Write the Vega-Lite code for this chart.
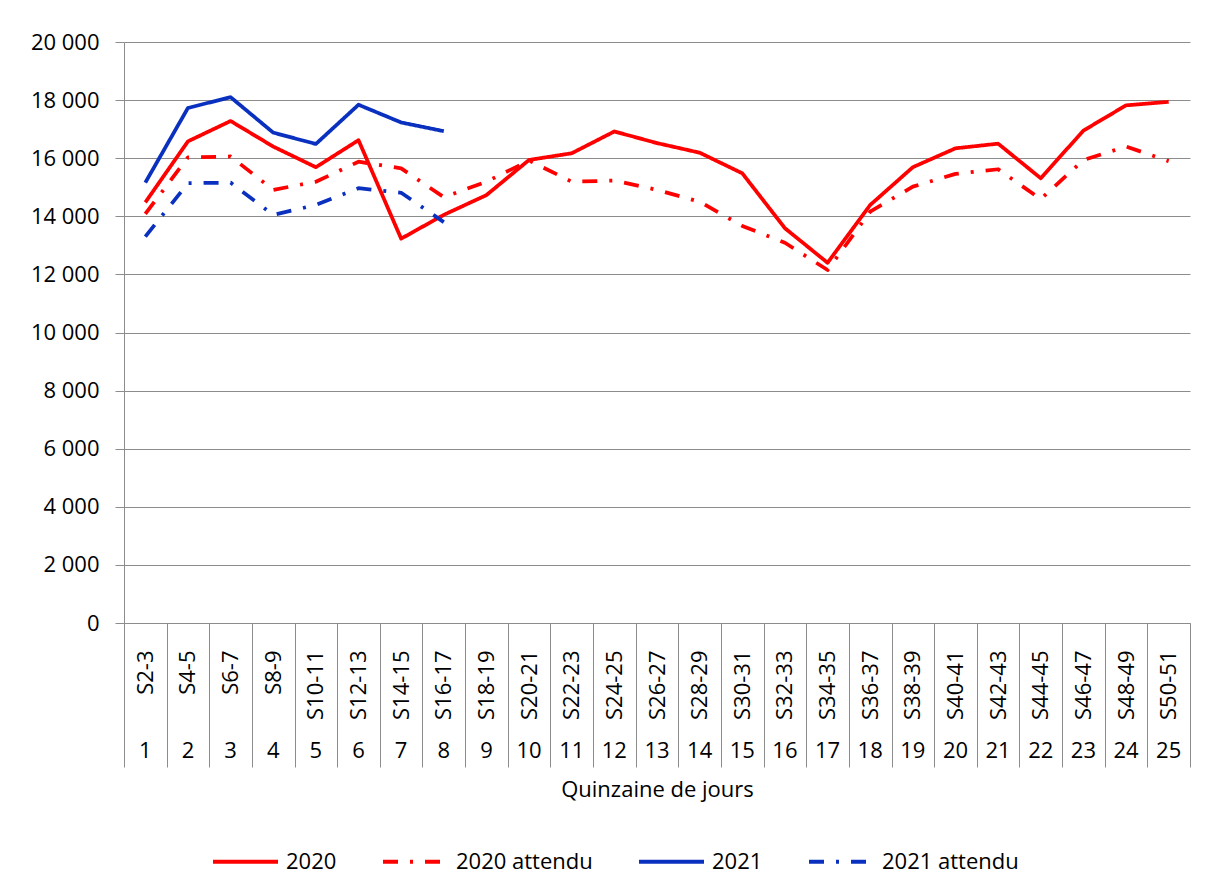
{
  "$schema": "https://vega.github.io/schema/vega-lite/v6.json",
  "width": 1066,
  "height": 581,
  "autosize": {"type": "none"},
  "padding": {"left": 124, "top": 42, "right": 15, "bottom": 272},
  "background": "white",
  "config": {
    "font": "Open Sans",
    "view": {"stroke": null},
    "axis": {"labelColor": "#000000", "titleColor": "#000000", "labelFont": "Open Sans", "titleFont": "Open Sans"},
    "legend": {"labelFont": "Open Sans"}
  },
  "datasets": {
    "series": [
      {"rang": 1, "quinzaine": "S2-3", "serie": "2020", "valeur": 14480},
      {"rang": 2, "quinzaine": "S4-5", "serie": "2020", "valeur": 16580},
      {"rang": 3, "quinzaine": "S6-7", "serie": "2020", "valeur": 17280},
      {"rang": 4, "quinzaine": "S8-9", "serie": "2020", "valeur": 16400},
      {"rang": 5, "quinzaine": "S10-11", "serie": "2020", "valeur": 15690},
      {"rang": 6, "quinzaine": "S12-13", "serie": "2020", "valeur": 16620},
      {"rang": 7, "quinzaine": "S14-15", "serie": "2020", "valeur": 13230},
      {"rang": 8, "quinzaine": "S16-17", "serie": "2020", "valeur": 14050},
      {"rang": 9, "quinzaine": "S18-19", "serie": "2020", "valeur": 14730},
      {"rang": 10, "quinzaine": "S20-21", "serie": "2020", "valeur": 15940},
      {"rang": 11, "quinzaine": "S22-23", "serie": "2020", "valeur": 16170},
      {"rang": 12, "quinzaine": "S24-25", "serie": "2020", "valeur": 16920},
      {"rang": 13, "quinzaine": "S26-27", "serie": "2020", "valeur": 16520},
      {"rang": 14, "quinzaine": "S28-29", "serie": "2020", "valeur": 16190},
      {"rang": 15, "quinzaine": "S30-31", "serie": "2020", "valeur": 15480},
      {"rang": 16, "quinzaine": "S32-33", "serie": "2020", "valeur": 13590},
      {"rang": 17, "quinzaine": "S34-35", "serie": "2020", "valeur": 12400},
      {"rang": 18, "quinzaine": "S36-37", "serie": "2020", "valeur": 14390},
      {"rang": 19, "quinzaine": "S38-39", "serie": "2020", "valeur": 15690},
      {"rang": 20, "quinzaine": "S40-41", "serie": "2020", "valeur": 16340},
      {"rang": 21, "quinzaine": "S42-43", "serie": "2020", "valeur": 16500},
      {"rang": 22, "quinzaine": "S44-45", "serie": "2020", "valeur": 15310},
      {"rang": 23, "quinzaine": "S46-47", "serie": "2020", "valeur": 16950},
      {"rang": 24, "quinzaine": "S48-49", "serie": "2020", "valeur": 17820},
      {"rang": 25, "quinzaine": "S50-51", "serie": "2020", "valeur": 17940},
      {"rang": 1, "quinzaine": "S2-3", "serie": "2020 attendu", "valeur": 14080},
      {"rang": 2, "quinzaine": "S4-5", "serie": "2020 attendu", "valeur": 16030},
      {"rang": 3, "quinzaine": "S6-7", "serie": "2020 attendu", "valeur": 16060},
      {"rang": 4, "quinzaine": "S8-9", "serie": "2020 attendu", "valeur": 14910},
      {"rang": 5, "quinzaine": "S10-11", "serie": "2020 attendu", "valeur": 15190},
      {"rang": 6, "quinzaine": "S12-13", "serie": "2020 attendu", "valeur": 15880},
      {"rang": 7, "quinzaine": "S14-15", "serie": "2020 attendu", "valeur": 15650},
      {"rang": 8, "quinzaine": "S16-17", "serie": "2020 attendu", "valeur": 14660},
      {"rang": 9, "quinzaine": "S18-19", "serie": "2020 attendu", "valeur": 15190},
      {"rang": 10, "quinzaine": "S20-21", "serie": "2020 attendu", "valeur": 15920},
      {"rang": 11, "quinzaine": "S22-23", "serie": "2020 attendu", "valeur": 15190},
      {"rang": 12, "quinzaine": "S24-25", "serie": "2020 attendu", "valeur": 15230},
      {"rang": 13, "quinzaine": "S26-27", "serie": "2020 attendu", "valeur": 14910},
      {"rang": 14, "quinzaine": "S28-29", "serie": "2020 attendu", "valeur": 14500},
      {"rang": 15, "quinzaine": "S30-31", "serie": "2020 attendu", "valeur": 13670},
      {"rang": 16, "quinzaine": "S32-33", "serie": "2020 attendu", "valeur": 13090},
      {"rang": 17, "quinzaine": "S34-35", "serie": "2020 attendu", "valeur": 12150},
      {"rang": 18, "quinzaine": "S36-37", "serie": "2020 attendu", "valeur": 14160},
      {"rang": 19, "quinzaine": "S38-39", "serie": "2020 attendu", "valeur": 15020},
      {"rang": 20, "quinzaine": "S40-41", "serie": "2020 attendu", "valeur": 15460},
      {"rang": 21, "quinzaine": "S42-43", "serie": "2020 attendu", "valeur": 15620},
      {"rang": 22, "quinzaine": "S44-45", "serie": "2020 attendu", "valeur": 14590},
      {"rang": 23, "quinzaine": "S46-47", "serie": "2020 attendu", "valeur": 15940},
      {"rang": 24, "quinzaine": "S48-49", "serie": "2020 attendu", "valeur": 16400},
      {"rang": 25, "quinzaine": "S50-51", "serie": "2020 attendu", "valeur": 15900},
      {"rang": 1, "quinzaine": "S2-3", "serie": "2021", "valeur": 15160},
      {"rang": 2, "quinzaine": "S4-5", "serie": "2021", "valeur": 17730},
      {"rang": 3, "quinzaine": "S6-7", "serie": "2021", "valeur": 18100},
      {"rang": 4, "quinzaine": "S8-9", "serie": "2021", "valeur": 16880},
      {"rang": 5, "quinzaine": "S10-11", "serie": "2021", "valeur": 16490},
      {"rang": 6, "quinzaine": "S12-13", "serie": "2021", "valeur": 17840},
      {"rang": 7, "quinzaine": "S14-15", "serie": "2021", "valeur": 17230},
      {"rang": 8, "quinzaine": "S16-17", "serie": "2021", "valeur": 16930},
      {"rang": 1, "quinzaine": "S2-3", "serie": "2021 attendu", "valeur": 13300},
      {"rang": 2, "quinzaine": "S4-5", "serie": "2021 attendu", "valeur": 15140},
      {"rang": 3, "quinzaine": "S6-7", "serie": "2021 attendu", "valeur": 15160},
      {"rang": 4, "quinzaine": "S8-9", "serie": "2021 attendu", "valeur": 14050},
      {"rang": 5, "quinzaine": "S10-11", "serie": "2021 attendu", "valeur": 14390},
      {"rang": 6, "quinzaine": "S12-13", "serie": "2021 attendu", "valeur": 14970},
      {"rang": 7, "quinzaine": "S14-15", "serie": "2021 attendu", "valeur": 14810},
      {"rang": 8, "quinzaine": "S16-17", "serie": "2021 attendu", "valeur": 13800}
    ],
    "categories": [
      {"rang": 1, "quinzaine": "S2-3"}, {"rang": 2, "quinzaine": "S4-5"}, {"rang": 3, "quinzaine": "S6-7"},
      {"rang": 4, "quinzaine": "S8-9"}, {"rang": 5, "quinzaine": "S10-11"}, {"rang": 6, "quinzaine": "S12-13"},
      {"rang": 7, "quinzaine": "S14-15"}, {"rang": 8, "quinzaine": "S16-17"}, {"rang": 9, "quinzaine": "S18-19"},
      {"rang": 10, "quinzaine": "S20-21"}, {"rang": 11, "quinzaine": "S22-23"}, {"rang": 12, "quinzaine": "S24-25"},
      {"rang": 13, "quinzaine": "S26-27"}, {"rang": 14, "quinzaine": "S28-29"}, {"rang": 15, "quinzaine": "S30-31"},
      {"rang": 16, "quinzaine": "S32-33"}, {"rang": 17, "quinzaine": "S34-35"}, {"rang": 18, "quinzaine": "S36-37"},
      {"rang": 19, "quinzaine": "S38-39"}, {"rang": 20, "quinzaine": "S40-41"}, {"rang": 21, "quinzaine": "S42-43"},
      {"rang": 22, "quinzaine": "S44-45"}, {"rang": 23, "quinzaine": "S46-47"}, {"rang": 24, "quinzaine": "S48-49"},
      {"rang": 25, "quinzaine": "S50-51"}
    ]
  },
  "layer": [
    {
      "data": {"name": "series"},
      "mark": {"type": "line", "strokeWidth": 3.75, "strokeCap": "butt", "strokeJoin": "round"},
      "encoding": {
        "x": {
          "field": "quinzaine",
          "type": "ordinal",
          "sort": {"field": "rang"},
          "scale": {"type": "band", "paddingInner": 0, "paddingOuter": 0},
          "axis": {
            "orient": "bottom",
            "title": null,
            "domain": true,
            "domainColor": "#8c8c8c",
            "domainWidth": 1,
            "ticks": true,
            "tickBand": "extent",
            "tickSize": 144,
            "tickColor": "#8c8c8c",
            "tickWidth": 1,
            "labelAngle": 270,
            "labelAlign": "right",
            "labelBaseline": "middle",
            "labelPadding": -117,
            "labelFontSize": 22,
            "labelFont": "Open Sans",
            "grid": false
          }
        },
        "y": {
          "field": "valeur",
          "type": "quantitative",
          "scale": {"domain": [0, 20000], "nice": false},
          "axis": {
            "title": null,
            "values": [0, 2000, 4000, 6000, 8000, 10000, 12000, 14000, 16000, 18000, 20000],
            "labelExpr": "replace(format(datum.value, ','), ',', ' ')",
            "labelFontSize": 22,
            "labelPadding": 16,
            "tickSize": 9,
            "tickColor": "#8c8c8c",
            "domainColor": "#8c8c8c",
            "grid": true,
            "gridColor": "#8c8c8c",
            "gridWidth": 1,
            "gridOpacity": 1
          }
        },
        "color": {
          "field": "serie",
          "type": "nominal",
          "scale": {"domain": ["2020", "2020 attendu", "2021", "2021 attendu"], "range": ["#ff0000", "#ff0000", "#0a30c0", "#0a30c0"]},
          "legend": {
            "title": null,
            "orient": "none",
            "direction": "horizontal",
            "legendX": 87,
            "legendY": 785,
            "padding": 0,
            "symbolType": "stroke",
            "symbolSize": 4225,
            "symbolStrokeWidth": 4,
            "labelFontSize": 22,
            "labelColor": "#000000",
            "labelOffset": 6,
            "columnPadding": 38
          }
        },
        "strokeDash": {
          "field": "serie",
          "type": "nominal",
          "scale": {"domain": ["2020", "2020 attendu", "2021", "2021 attendu"], "range": [[1, 0], [15, 12, 3, 12], [1, 0], [15, 12, 3, 12]]},
          "legend": null
        }
      }
    },
    {
      "data": {"name": "categories"},
      "mark": {"type": "point", "opacity": 0},
      "encoding": {
        "x": {
          "field": "rang",
          "type": "ordinal",
          "scale": {"type": "band", "paddingInner": 0, "paddingOuter": 0},
          "axis": {
            "orient": "bottom",
            "title": "Quinzaine de jours",
            "titleFontSize": 22,
            "titleFontWeight": "normal",
            "titlePadding": 18,
            "domain": false,
            "ticks": false,
            "labelAngle": 0,
            "labelAlign": "center",
            "labelBaseline": "middle",
            "labelPadding": 127,
            "labelFontSize": 22,
            "grid": false
          }
        }
      }
    }
  ],
  "resolve": {"scale": {"x": "independent"}, "axis": {"x": "independent"}}
}
